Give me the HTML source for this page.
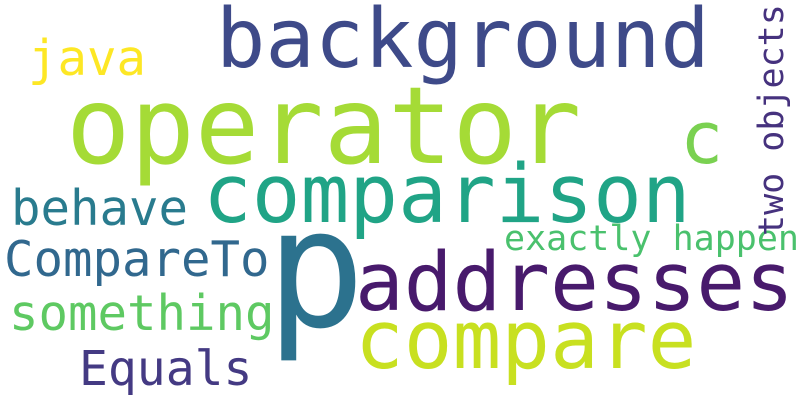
<!DOCTYPE html>
<html><head><meta charset="utf-8"><style>
html,body{margin:0;padding:0;background:#fff}
svg{display:block}
text{font-family:"DejaVu Sans Mono","Liberation Mono",monospace}
</style></head><body>
<svg width="800" height="400" viewBox="0 0 800 400">
<rect width="800" height="400" fill="#fff"/>
<text x="216" y="67" font-size="82" fill="#3e4a89">background</text>
<text x="66" y="163" font-size="107" fill="#a5db36">operator</text>
<text x="680" y="163" font-size="72" fill="#7ad151">c</text>
<text x="203" y="222" font-size="81" fill="#20a486">comparison</text>
<text x="355" y="310" font-size="81" fill="#481a6c">addresses</text>
<text x="355" y="368" font-size="81" fill="#c8e020">compare</text>
<text x="266" y="326" font-size="165" fill="#2c728e">p</text>
<text x="28" y="75" font-size="49" fill="#fde725">java</text>
<text x="11" y="225" font-size="49" fill="#297b8e">behave</text>
<text x="4" y="276" font-size="49" fill="#31688e">CompareTo</text>
<text x="9" y="330" font-size="49" fill="#5ec962">something</text>
<text x="79" y="385" font-size="48" fill="#443a83">Equals</text>
<text x="504" y="250" font-size="35" fill="#4ac16d">exactly happen</text>
<text transform="translate(783,236) rotate(-90)" x="0" y="0" font-size="35" fill="#46327e">two objects</text>
</svg>
</body></html>
